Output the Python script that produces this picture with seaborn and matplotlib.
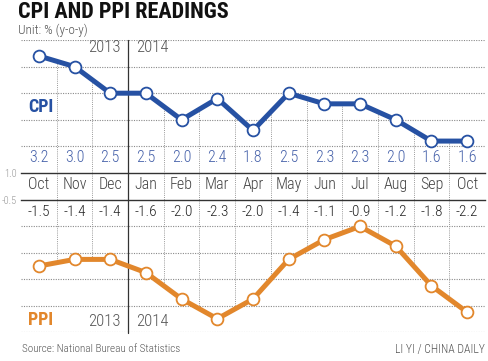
import matplotlib
matplotlib.use("Agg")
import matplotlib.pyplot as plt
import matplotlib.transforms as mtrans
import seaborn as sns
import pandas as pd

months = ["Oct", "Nov", "Dec", "Jan", "Feb", "Mar", "Apr", "May", "Jun", "Jul", "Aug", "Sep", "Oct"]
cpi = [3.2, 3.0, 2.5, 2.5, 2.0, 2.4, 1.8, 2.5, 2.3, 2.3, 2.0, 1.6, 1.6]
ppi = [-1.5, -1.4, -1.4, -1.6, -2.0, -2.3, -2.0, -1.4, -1.1, -0.9, -1.2, -1.8, -2.2]
cpi_grid = [3.5, 3.0, 2.5, 2.0, 1.5]
ppi_grid = [-0.9, -1.3, -1.7, -2.1, -2.5]

CPI_COL = "#2651a3"
PPI_COL = "#e2872c"
FONT = ["Roboto Condensed", "DejaVu Sans"]

sns.set_style("white")
plt.rcParams["font.family"] = FONT
plt.rcParams["font.weight"] = 300

df = pd.DataFrame({"idx": range(len(months)), "month": months, "cpi": cpi, "ppi": ppi})

W, H = 488, 361
fig = plt.figure(figsize=(W / 100, H / 100), dpi=100)


def fy(py):
    return 1 - py / H


ax_top = fig.add_axes([21 / W, fy(173), 464 / W, 133 / H], facecolor="none")
ax_bot = fig.add_axes([21 / W, fy(332), 464 / W, 132 / H], facecolor="none")

dot = (0, (1, 1.2))

# --- CPI panel ---
ax_top.set_xlim(-0.5, 12.5)
ax_top.set_ylim(1.0, 3.5)
for g in cpi_grid:
    ax_top.axhline(g, color="#8a8a8a", lw=0.8, ls=dot, zorder=1)
tr_top = mtrans.blended_transform_factory(ax_top.transData, ax_top.transAxes)
for i in range(len(cpi) - 1):
    xm = i + 0.5
    if i == 2:
        continue
    mid = (cpi[i] + cpi[i + 1]) / 2
    ax_top.plot([xm, xm], [mid, 1.0], color="#9a9a9a", lw=0.7, ls=dot, zorder=1)
    ax_top.plot([xm, xm], [0, -27 / 133], color="#9a9a9a", lw=0.7, ls=dot,
                transform=tr_top, clip_on=False, zorder=1)
# year separator
ax_top.plot([2.5, 2.5], [1.0, -160 / 133], color="#333333", lw=0.9,
            transform=tr_top, clip_on=False, zorder=2)

sns.lineplot(data=df, x="idx", y="cpi", ax=ax_top, color=CPI_COL, lw=3.6,
             marker="o", markersize=8.5, markerfacecolor="white",
             markeredgecolor=CPI_COL, markeredgewidth=1.3, zorder=5)
for i, v in enumerate(cpi):
    ax_top.text(i, 15 / 133, f"{v:.1f}", transform=tr_top, ha="center", va="center",
                fontsize=11.5, color="#4762aa")

for s in ["top", "left", "right"]:
    ax_top.spines[s].set_visible(False)
ax_top.spines["bottom"].set_color("#333333")
ax_top.spines["bottom"].set_linewidth(1.0)
ax_top.set_xticks(range(len(months)))
ax_top.set_xticklabels(months, fontsize=11.5, color="#444444")
ax_top.set_yticks([1.0])
ax_top.set_yticklabels(["1.0"], fontsize=7.5, color="#999999")
ax_top.tick_params(axis="both", length=0)
ax_top.tick_params(axis="x", pad=3)
ax_top.tick_params(axis="y", pad=3)
ax_top.set_xlabel("")
ax_top.set_ylabel("")

# --- PPI panel ---
ax_bot.set_xlim(-0.5, 12.5)
ax_bot.set_ylim(-2.5, -0.5)
for g in ppi_grid:
    ax_bot.axhline(g, color="#8a8a8a", lw=0.8, ls=dot, zorder=1)
tr_bot = mtrans.blended_transform_factory(ax_bot.transData, ax_bot.transAxes)
for i in range(len(ppi) - 1):
    xm = i + 0.5
    if i == 2:
        continue
    mid = (ppi[i] + ppi[i + 1]) / 2
    ax_bot.plot([xm, xm], [-0.5, mid], color="#9a9a9a", lw=0.7, ls=dot, zorder=1)

sns.lineplot(data=df, x="idx", y="ppi", ax=ax_bot, color=PPI_COL, lw=3.6,
             marker="o", markersize=8.5, markerfacecolor="white",
             markeredgecolor=PPI_COL, markeredgewidth=1.3, zorder=5)
for i, v in enumerate(ppi):
    ax_bot.text(i, 1 - 12 / 132, f"{v:.1f}", transform=tr_bot, ha="center", va="center",
                fontsize=11, color="#222222")

for s in ["bottom", "left", "right"]:
    ax_bot.spines[s].set_visible(False)
ax_bot.spines["top"].set_color("#333333")
ax_bot.spines["top"].set_linewidth(1.0)
ax_bot.set_xticks([])
ax_bot.set_yticks([-0.5])
ax_bot.set_yticklabels(["-0.5"], fontsize=7.5, color="#999999")
ax_bot.tick_params(axis="both", length=0, pad=3)
ax_bot.set_xlabel("")
ax_bot.set_ylabel("")

# --- texts ---
fig.text(18 / W, fy(12), "CPI AND PPI READINGS", fontsize=16, fontweight="bold",
         color="#111111", va="center", ha="left")
fig.text(18 / W, fy(30), "Unit: % (y-o-y)", fontsize=9.5, color="#555555", va="center")
fig.text(28 / W, fy(107), "CPI", fontsize=13, fontweight="bold", color=CPI_COL, va="center")
fig.text(28 / W, fy(320), "PPI", fontsize=13, fontweight="bold", color=PPI_COL, va="center")
for yy in (48, 322):
    fig.text(121 / W, fy(yy), "2013", fontsize=12, color="#555555", va="center", ha="right")
    fig.text(136 / W, fy(yy), "2014", fontsize=12, color="#555555", va="center", ha="left")
fig.text(22 / W, fy(349), "Source: National Bureau of Statistics", fontsize=8,
         color="#555555", va="center")
fig.text(485 / W, fy(349), "LI YI / CHINA DAILY", fontsize=8.5, color="#555555",
         va="center", ha="right")

fig.savefig("out.png", dpi=100)
